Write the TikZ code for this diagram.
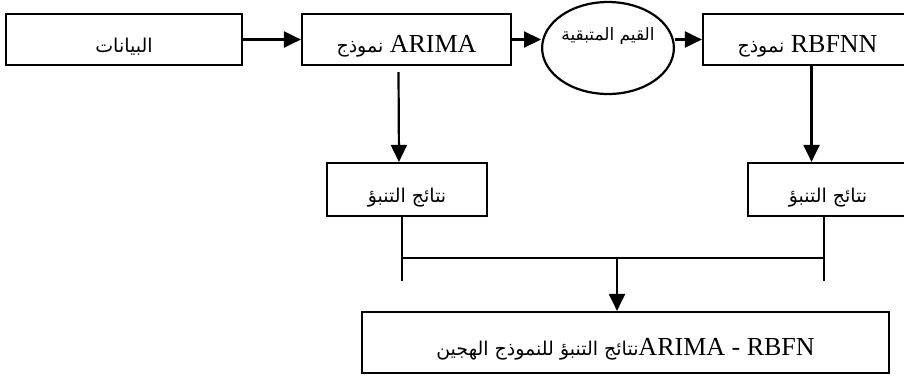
\documentclass[tikz,border=0pt]{standalone}
\usepackage{fontspec}
\setmainfont{Liberation Serif}
\newfontfamily\arabicfont[Script=Arabic]{DejaVu Sans}
\TeXXeTstate=1
\usetikzlibrary{positioning,arrows.meta,shapes.geometric}
\tikzset{
  box/.style  = {draw, line width=1.1pt, minimum height=25.5pt, inner sep=0pt, text height=15pt, text depth=2pt, font=\fontsize{13}{15}\selectfont},
  ebox/.style = {draw, ellipse, line width=1.1pt, minimum width=65pt, minimum height=46pt, inner sep=0pt, text height=8pt, text depth=16pt},
  flow/.style = {-{Triangle[length=8.5pt,width=8pt]}, line width=1.1pt},
  link/.style = {line width=1.1pt},
}
\newcommand{\artxt}[1]{{\arabicfont\fontsize{9.5}{11}\selectfont\beginR #1\endR}}

\begin{document}
\begin{tikzpicture}[x=0.5pt,y=-0.5pt]
  \useasboundingbox (0,0) rectangle (904,377);
  \node[box, minimum width=118pt] (data) at (124,39.5) {\artxt{البيانات}};
  \node[box, minimum width=104.5pt] (arima) at (406.5,39.5) {\artxt{نموذج} ARIMA};
  \node[ebox, font=\fontsize{8.5}{10}\selectfont] (resid) at (608,48) {{\arabicfont\beginR القيم المتبقية\endR}};
  \node[box, minimum width=104.5pt] (rbf) at (807.5,39.5) {\artxt{نموذج} RBFNN};
  \node[box, minimum width=80pt, minimum height=26.5pt] (fcA) at (407,189.5) {\artxt{نتائج التنبؤ}};
  \node[box, minimum width=80pt, minimum height=26.5pt] (fcB) at (828,189.5) {\artxt{نتائج التنبؤ}};
  \node[box, minimum width=263.5pt, minimum height=30.5pt] (hyb) at (625.5,342.5) {\artxt{نتائج التنبؤ للنموذج الهجين}ARIMA - RBFN};
  \coordinate (mergeA) at (402,258);
  \coordinate (mergeB) at (824,258);
  \coordinate (mid) at (617,258);
  \coordinate (tailA) at (402,281);
  \coordinate (tailB) at (824,281);
  \draw[flow] (data) -- (arima);
  \draw[flow] (arima.east) -- (arima.east -| resid.west);
  \draw[flow] (rbf.west -| resid.east) -- (rbf.west);
  \draw[flow] ([xshift=-4pt,yshift=-3pt]arima.south) -- ([xshift=-4pt]fcA.north);
  \draw[flow] ([xshift=2pt]rbf.south) -- ([xshift=2pt]rbf.south |- fcB.north);
  \draw[link] (fcA.south -| tailA) -- (tailA);
  \draw[link] (fcB.south -| tailB) -- (tailB);
  \draw[link] (mergeA) -- (mergeB);
  \draw[flow] (mid) -- (mid |- hyb.north);
\end{tikzpicture}
\end{document}
